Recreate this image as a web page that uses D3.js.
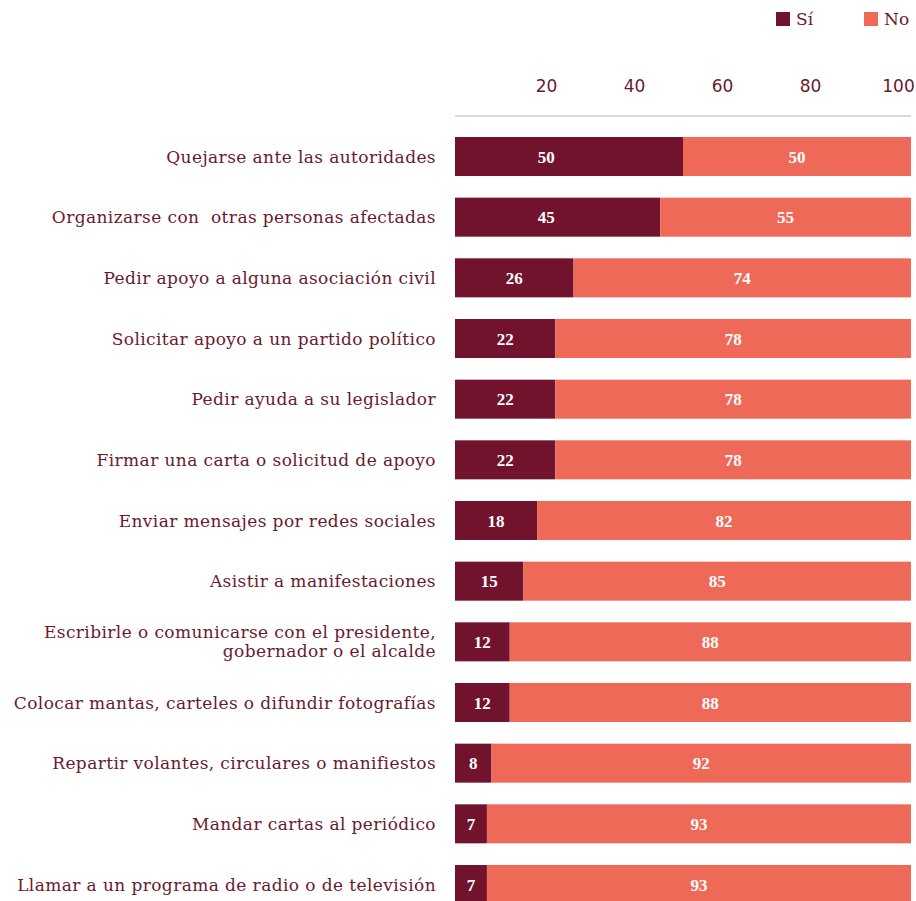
<!DOCTYPE html>
<html>
<head>
<meta charset="utf-8">
<title>Acciones</title>
<style>
  body { margin: 0; background: #fff; }
  text { font-family: "DejaVu Serif", serif; }
</style>
</head>
<body>
<script src="https://d3js.org/d3.v7.min.js"></script>
<script>
    // data
    var categories = [
        "Quejarse ante las autoridades",
        "Organizarse con  otras personas afectadas",
        "Pedir apoyo a alguna asociación civil",
        "Solicitar apoyo a un partido político",
        "Pedir ayuda a su legislador",
        "Firmar una carta o solicitud de apoyo",
        "Enviar mensajes por redes sociales",
        "Asistir a manifestaciones",
        "Escribirle o comunicarse con el presidente,|gobernador o el alcalde",
        "Colocar mantas, carteles o difundir fotografías",
        "Repartir volantes, circulares o manifiestos",
        "Mandar cartas al periódico",
        "Llamar a un programa de radio o de televisión"
    ];
    var si = [50, 45, 26, 22, 22, 22, 18, 15, 12, 12, 8, 7, 7];
    var no = [50, 55, 74, 78, 78, 78, 82, 85, 88, 88, 92, 93, 93];
    var seriesNames = ["Sí", "No"];
    var tickValues = [20, 40, 60, 80, 100];

    var colors = {"Sí": "#72132d", "No": "#ef6959"};
    var textColor = "#6a1a2f";

    var W = 916, H = 901;
    var svg = d3.select("body").append("svg")
        .attr("width", W)
        .attr("height", H);

    var x = d3.scaleLinear().domain([0, 100]).range([455, 911]);
    // tick labels sit a bit tighter than the bars
    var xt = d3.scaleLinear().domain([0, 100]).range([458, 898]);
    var y = d3.scaleBand().domain(categories).range([137, 904]).paddingInner(0.357).paddingOuter(0);

    var rows = categories.map(function(c, i) {
        return {cat: c, si: si[i], no: no[i]};
    });

    // top axis: labels + gray rule
    var axis = d3.axisTop(xt).tickValues(tickValues).tickSize(0).tickPadding(0);
    var ag = svg.append("g").attr("transform", "translate(0,92)").call(axis);
    ag.select(".domain").remove();
    ag.selectAll("text")
        .attr("fill", textColor)
        .style("font-family", "'DejaVu Sans', sans-serif")
        .style("font-size", "17px");

    svg.append("line")
        .attr("x1", x(0)).attr("x2", x(100))
        .attr("y1", 116).attr("y2", 116)
        .attr("stroke", "#d9d9d9").attr("stroke-width", 2);

    var row = svg.selectAll(".row").data(rows).join("g").attr("class", "row");

    row.append("rect")
        .attr("x", x(0))
        .attr("y", d => y(d.cat))
        .attr("width", d => x(d.si) - x(0))
        .attr("height", y.bandwidth())
        .attr("fill", colors["Sí"]);

    row.append("rect")
        .attr("x", d => x(d.si))
        .attr("y", d => y(d.cat))
        .attr("width", d => x(d.si + d.no) - x(d.si))
        .attr("height", y.bandwidth())
        .attr("fill", colors["No"]);

    // value labels
    row.append("text")
        .attr("x", d => Math.min((x(0) + x(d.si)) / 2, x(20)))
        .attr("y", d => y(d.cat) + y.bandwidth() / 2)
        .attr("dy", "0.36em")
        .attr("text-anchor", "middle")
        .attr("fill", "#fff")
        .style("font-family", "'Liberation Serif', serif")
        .style("font-weight", "bold")
        .style("font-size", "17px")
        .text(d => d.si);

    row.append("text")
        .attr("x", d => (x(d.si) + x(d.si + d.no)) / 2)
        .attr("y", d => y(d.cat) + y.bandwidth() / 2)
        .attr("dy", "0.36em")
        .attr("text-anchor", "middle")
        .attr("fill", "#fff")
        .style("font-family", "'Liberation Serif', serif")
        .style("font-weight", "bold")
        .style("font-size", "17px")
        .text(d => d.no);

    // category labels (| splits lines)
    var lab = row.append("text")
        .attr("text-anchor", "end")
        .attr("fill", textColor)
        .style("font-size", "17px")
        .style("letter-spacing", "0.4px")
        .attr("transform", d => "translate(436," + (y(d.cat) + y.bandwidth() / 2) + ")");

    lab.each(function(d) {
        var lines = d.cat.split("|");
        var t = d3.select(this);
        lines.forEach(function(l, i) {
            t.append("tspan")
                .attr("x", 0)
                .attr("y", (i - (lines.length - 1) / 2) * 19)
                .attr("dy", "0.36em")
                .style("white-space", "pre")
                .text(l);
        });
    });

    // legend
    var leg = svg.selectAll(".legend").data(seriesNames).join("g")
        .attr("class", "legend")
        .attr("transform", (d, i) => "translate(" + (776 + i * 88) + ",12)");
    leg.append("rect")
        .attr("width", 14).attr("height", 14)
        .attr("fill", d => colors[d]);
    leg.append("text")
        .attr("x", 20).attr("y", 7).attr("dy", "0.36em")
        .attr("fill", textColor)
        .style("font-size", "17px")
        .text(d => d);
</script>
</body>
</html>
